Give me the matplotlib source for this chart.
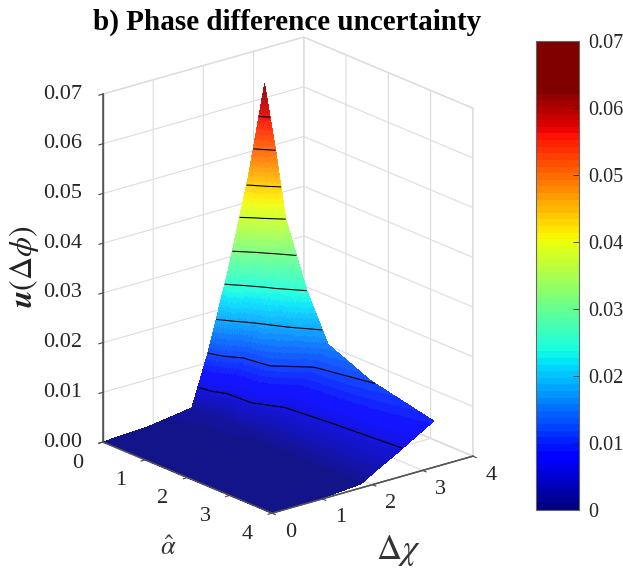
import numpy as np
import matplotlib
matplotlib.use("Agg")
import matplotlib.pyplot as plt
from matplotlib.colors import Normalize, ListedColormap
from matplotlib.cm import ScalarMappable
from mpl_toolkits.mplot3d import proj3d

chi_nodes = [0, 0.9, 1.77, 2.1, 2.5, 2.9, 3.22]
alpha_nodes = [0, 0.25, 0.5, 1.0, 1.5, 2.5, 4.0]
# one row per alpha node
z_a0 = [0, 0.0005, 0.0018, 0.0122, 0.0276, 0.0453, 0.0628]
z_a1 = [0.0001, 0.0005, 0.0015, 0.0096, 0.0200, 0.0340, 0.0510]
z_a2 = [0.0001, 0.0004, 0.0012, 0.0062, 0.0145, 0.0270, 0.0374]
z_a3 = [0, 0.0003, 0.0012, 0.0058, 0.0125, 0.0173, 0.0248]
z_a4 = [0, 0.0002, 0.0010, 0.0036, 0.0068, 0.0110, 0.0158]
z_a5 = [0, 0.0002, 0.0009, 0.0032, 0.0058, 0.0098, 0.0121]
z_a6 = [0, 0.0001, 0.0008, 0.0028, 0.0050, 0.0074, 0.0093]
contour_levels = [0.0056, 0.0119, 0.0182, 0.0248, 0.031, 0.0374, 0.0435, 0.0504, 0.0566]
z_ticks = [0, 0.01, 0.02, 0.03, 0.04, 0.05, 0.06, 0.07]
z_labels = ['0.00', '0.01', '0.02', '0.03', '0.04', '0.05', '0.06', '0.07']
cbar_labels = ['0', '0.01', '0.02', '0.03', '0.04', '0.05', '0.06', '0.07']
xy_ticks = [0, 1, 2, 3, 4]

plt.rcParams['font.family'] = ['Liberation Serif', 'DejaVu Serif']
plt.rcParams['mathtext.fontset'] = 'stix'
plt.rcParams['grid.color'] = '#dddddd'
plt.rcParams['grid.linewidth'] = 0.8

Z = np.array([z_a0, z_a1, z_a2, z_a3, z_a4, z_a5, z_a6])
X, Y = np.meshgrid(chi_nodes, alpha_nodes)

# refine only for the smooth shading (same as shading interp), nodes stay as read
def refine(nodes, n=24):
    idx = np.linspace(0, len(nodes) - 1, (len(nodes) - 1) * n + 1)
    return idx, np.interp(idx, np.arange(len(nodes)), nodes)

ci, cf = refine(chi_nodes)
ai, af = refine(alpha_nodes)
Zf = np.array([np.interp(ci, np.arange(len(chi_nodes)), row) for row in Z])
Zf = np.array([np.interp(ai, np.arange(len(alpha_nodes)), col) for col in Zf.T]).T
Xf, Yf = np.meshgrid(cf, af)

cmap = ListedColormap(plt.get_cmap('jet')(np.linspace(0, 1, 64)))
norm = Normalize(0, 0.0634)

fig = plt.figure(figsize=(6.23, 5.72), dpi=100)
ax = fig.add_axes([26/623, 35/572, 510/623, 510/572], projection='3d', computed_zorder=False)
ax.set_proj_type('ortho')
ax.view_init(elev=20.2, azim=-129.4)
ax.set_box_aspect((260, 266.5, 371))
ax.set_xlim(0, 4, view_margin=0)
ax.set_ylim(4, 0, view_margin=0)
ax.set_zlim(0, 0.07, view_margin=0)

mids = (Zf[:-1, :-1] + Zf[1:, :-1] + Zf[:-1, 1:] + Zf[1:, 1:]) / 4
# surface colours are a little paler than the colorbar
face = cmap(norm(mids))
face[..., :3] = face[..., :3] * 0.92 + 0.08
ax.plot_surface(Xf, Yf, Zf, facecolors=face, rstride=1, cstride=1,
                linewidth=0, antialiased=False, shade=False, zorder=1)
ax.contour(X, Y, Z, levels=contour_levels, colors='black', linewidths=0.8, zorder=2)

ax.set_xticks(xy_ticks)
ax.set_yticks(xy_ticks)
ax.set_zticks(z_ticks)
ax.set_xticklabels([])
ax.set_yticklabels([])
ax.set_zticklabels([])
ax.tick_params(axis='both', colors='#444444', width=0.9)
for a in (ax.xaxis, ax.yaxis, ax.zaxis):
    a.set_pane_color((1, 1, 1, 1))
    a.pane.set_edgecolor('#dddddd')
    a.line.set_color('#555555')
    a.line.set_linewidth(1.0)
    a._axinfo['tick']['inward_factor'] = 0.25
    a._axinfo['tick']['outward_factor'] = 0.0

# axis lines that the surface would cover
ax.plot([0, 0], [0, 4], [0, 0], color='#555555', lw=1.0, zorder=3)
ax.plot([0, 4], [4, 4], [0, 0], color='#555555', lw=1.0, zorder=3)
ax.plot([0, 0], [0, 0], [0, 0.07], color='#555555', lw=1.1, zorder=3)

# tick labels placed through the 3d projection so they sit where the matlab ones do
M = ax.get_proj()
def label3d(x, y, z, s, ha='center'):
    px, py, _ = proj3d.proj_transform(x, y, z, M)
    ax.text2D(px, py, s, transform=ax.transData, fontsize=16, ha=ha, va='center', color='#262626')

for v in xy_ticks:
    label3d(v - 0.32, 4.81, 0, str(v))
    label3d(-0.89, v + 0.47, 0, str(v))
for v, s in zip(z_ticks, z_labels):
    label3d(-0.25, -0.2, v, s, ha='right')

fig.text(287/623, 1 - 22/572, 'b) Phase difference uncertainty', fontsize=21, fontweight='bold',
         ha='center', va='center', color='black')
fig.text(24/623, 1 - 267/572, r'$\boldsymbol{u}(\Delta\phi)$', fontsize=23,
         rotation=90, ha='center', va='center', color='#222222')
fig.text(168/623, 1 - 548/572, r'$\hat{\alpha}$', fontsize=19, ha='center', va='center', color='#333333')
fig.text(398/623, 1 - 551/572, r'$\Delta\chi$', fontsize=25, ha='center', va='center', color='#333333')

cax = fig.add_axes([536/623, 1 - 510/572, 43/623, 469/572])
sm = ScalarMappable(norm=norm, cmap=cmap)
cb = fig.colorbar(sm, cax=cax, boundaries=np.linspace(0, 0.07, 72))
cb.set_ticks(z_ticks)
cb.set_ticklabels(cbar_labels)
cb.ax.tick_params(labelsize=14.5, length=4, direction='in', pad=7, colors='#262626', width=0.6)
cb.outline.set_edgecolor('#666666')
cb.outline.set_linewidth(0.8)

fig.savefig('out.png', dpi=100)
